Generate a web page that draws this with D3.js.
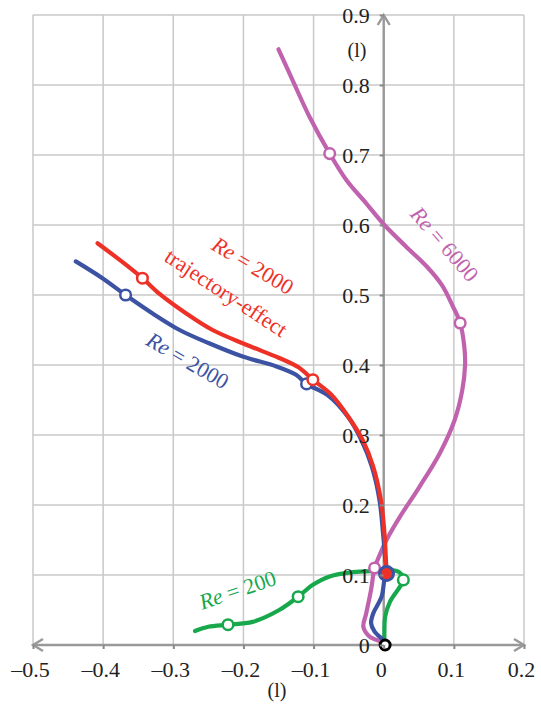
<!DOCTYPE html>
<html>
<head>
<meta charset="utf-8">
<script src="https://cdn.jsdelivr.net/npm/d3@7"></script>
<style>
    body { margin: 0; background: #fff; }
    text { font-family: "Liberation Serif", "Times New Roman", serif; }
</style>
</head>
<body>
<svg id="chart" width="541" height="704"></svg>
<script>
// tick values
var xTicks = [-0.5, -0.4, -0.3, -0.2, -0.1, 0, 0.1, 0.2];
var yTicks = [0, 0.1, 0.2, 0.3, 0.4, 0.5, 0.6, 0.7, 0.8, 0.9];

// Re = 6000 (top -> origin)
var re6000X = [-0.150, -0.130, -0.106, -0.077, -0.053, -0.025, 0.001, 0.032, 0.062, 0.083, 0.098, 0.109, 0.115, 0.116, 0.112, 0.101, 0.080, 0.051, 0.023, 0.004, -0.006, -0.013, -0.018, -0.025, -0.029, -0.020, -0.003, 0.000];
var re6000Y = [0.851, 0.807, 0.755, 0.702, 0.664, 0.631, 0.600, 0.569, 0.540, 0.514, 0.485, 0.460, 0.425, 0.400, 0.364, 0.321, 0.274, 0.226, 0.183, 0.150, 0.128, 0.110, 0.079, 0.045, 0.026, 0.012, 0.004, 0.000];
var re6000Marks = [[-0.077, 0.702], [0.109, 0.460], [-0.013, 0.110]];

// Re = 2000 trajectory-effect
var trajX = [-0.408, -0.375, -0.344, -0.320, -0.282, -0.244, -0.196, -0.149, -0.122, -0.101, -0.074, -0.049, -0.030, -0.015, -0.004, 0.001, 0.003, 0.004];
var trajY = [0.574, 0.549, 0.524, 0.502, 0.474, 0.450, 0.429, 0.410, 0.397, 0.379, 0.357, 0.324, 0.293, 0.255, 0.207, 0.160, 0.125, 0.102];
var trajMarks = [[-0.344, 0.524], [-0.101, 0.379]];

// Re = 2000
var re2000X = [-0.439, -0.401, -0.368, -0.330, -0.291, -0.249, -0.201, -0.153, -0.125, -0.110, -0.080, -0.051, -0.032, -0.017, -0.006, -0.001, 0.002, 0.004, 0.001, -0.003, -0.015, -0.018, -0.013, 0.001, 0.002];
var re2000Y = [0.548, 0.524, 0.500, 0.474, 0.450, 0.431, 0.412, 0.398, 0.386, 0.373, 0.357, 0.326, 0.293, 0.255, 0.207, 0.160, 0.125, 0.102, 0.093, 0.069, 0.045, 0.031, 0.019, 0.005, 0.000];
var re2000Marks = [[-0.368, 0.500], [-0.110, 0.373]];

// Re = 200
var re200X = [-0.269, -0.250, -0.222, -0.187, -0.149, -0.122, -0.101, -0.077, -0.044, -0.006, 0.012, 0.022, 0.028, 0.023, 0.009, 0.002, 0.001, 0.001];
var re200Y = [0.020, 0.026, 0.029, 0.033, 0.050, 0.069, 0.086, 0.098, 0.104, 0.106, 0.107, 0.104, 0.093, 0.083, 0.062, 0.040, 0.020, 0.000];
var re200Marks = [[-0.222, 0.029], [-0.122, 0.069], [0.028, 0.093]];

var startPoint = [0.004, 0.102];
var origin = [0.002, 0.0];

var colors = {re6000: '#c062ad', traj: '#ee3127', re2000: '#3c52a3', re200: '#17a84c'};

var svg = d3.select('#chart');

var x = d3.scaleLinear().domain([-0.5, 0.2]).range([33, 524]);
var y = d3.scaleLinear().domain([0, 0.9]).range([645, 15]);

// grid
var grid = svg.append('g').attr('stroke', '#c8c8c8').attr('stroke-width', 1.5);
grid.selectAll('.vg').data(xTicks).enter().append('line')
    .attr('x1', function (d) { return x(d); }).attr('x2', function (d) { return x(d); })
    .attr('y1', y(0)).attr('y2', y(0.9));
grid.selectAll('.hg').data(yTicks).enter().append('line')
    .attr('x1', x(-0.5)).attr('x2', x(0.2))
    .attr('y1', function (d) { return y(d); }).attr('y2', function (d) { return y(d); });

// axes with arrows
var axisColor = '#999';
var ax = svg.append('g').attr('stroke', axisColor).attr('stroke-width', 2.4).attr('fill', 'none');
ax.append('line').attr('x1', x(-0.5)).attr('x2', x(0.2)).attr('y1', y(0)).attr('y2', y(0));
ax.append('line').attr('x1', x(0)).attr('x2', x(0)).attr('y1', y(0)).attr('y2', y(0.9));
ax.append('path').attr('d', 'M' + (x(0.2) - 10) + ',' + (y(0) - 6) + 'L' + x(0.2) + ',' + y(0) + 'L' + (x(0.2) - 10) + ',' + (y(0) + 6));
ax.append('path').attr('d', 'M' + (x(-0.5) + 10) + ',' + (y(0) - 6) + 'L' + x(-0.5) + ',' + y(0) + 'L' + (x(-0.5) + 10) + ',' + (y(0) + 6));
ax.append('path').attr('d', 'M' + (x(0) - 6) + ',' + (y(0.9) + 10) + 'L' + x(0) + ',' + y(0.9) + 'L' + (x(0) + 6) + ',' + (y(0.9) + 10));

// curves
var line = d3.line()
    .x(function (d) { return x(d[0]); })
    .y(function (d) { return y(d[1]); })
    .curve(d3.curveCatmullRom.alpha(0.5));

function zip(xs, ys) { return xs.map(function (v, i) { return [v, ys[i]]; }); }

var series = [
    {pts: zip(re6000X, re6000Y), marks: re6000Marks, color: colors.re6000},
    {pts: zip(re200X, re200Y), marks: re200Marks, color: colors.re200},
    {pts: zip(re2000X, re2000Y), marks: re2000Marks, color: colors.re2000},
    {pts: zip(trajX, trajY), marks: trajMarks, color: colors.traj}
];

svg.append('g').selectAll('path').data(series).enter().append('path')
    .attr('d', function (d) { return line(d.pts); })
    .attr('fill', 'none')
    .attr('stroke', function (d) { return d.color; })
    .attr('stroke-width', 4.2)
    .attr('stroke-linecap', 'round')
    .attr('stroke-linejoin', 'round');

// open markers
series.forEach(function (s) {
    svg.append('g').selectAll('circle').data(s.marks).enter().append('circle')
        .attr('cx', function (d) { return x(d[0]); })
        .attr('cy', function (d) { return y(d[1]); })
        .attr('r', 5.3)
        .attr('fill', '#fff')
        .attr('stroke', s.color)
        .attr('stroke-width', 2.5);
});

svg.append('circle')
    .attr('cx', x(startPoint[0])).attr('cy', y(startPoint[1])).attr('r', 7)
    .attr('fill', colors.traj).attr('stroke', colors.re2000).attr('stroke-width', 3);

svg.append('circle')
    .attr('cx', x(origin[0])).attr('cy', y(origin[1])).attr('r', 5)
    .attr('fill', '#fff').attr('stroke', '#000').attr('stroke-width', 3);

// tick labels
var yAxis = svg.append('g')
    .attr('transform', 'translate(' + x(0) + ',0)')
    .call(d3.axisLeft(y).tickValues(yTicks).tickSize(4).tickPadding(10)
        .tickFormat(function (d) { return d === 0 ? '0' : d.toFixed(1); }));
var xAxis = svg.append('g')
    .attr('transform', 'translate(0,' + y(0) + ')')
    .call(d3.axisBottom(x).tickValues(xTicks).tickSize(4).tickPadding(12)
        .tickFormat(function (d) { return d === 0 ? '0' : (d < 0 ? '\u2013' : '') + Math.abs(d).toFixed(1); }));

[xAxis, yAxis].forEach(function (a) {
    a.select('.domain').remove();
    a.selectAll('.tick line').attr('stroke', '#888').attr('stroke-width', 2);
    a.selectAll('.tick text').attr('fill', '#222').attr('font-size', 22)
        .attr('font-family', '"Liberation Serif", serif');
});
xAxis.selectAll('.tick text').attr('dx', -3);

// axis unit labels
svg.append('text').attr('x', 277).attr('y', 697).attr('text-anchor', 'middle')
    .attr('font-size', 20).attr('fill', '#222').text('(l)');
svg.append('text').attr('x', 357).attr('y', 57).attr('text-anchor', 'middle')
    .attr('font-size', 20).attr('fill', '#222').text('(l)');

// curve labels
function reLabel(cx, cy, angle, value, color) {
    var t = svg.append('text')
        .attr('transform', 'translate(' + cx + ',' + cy + ') rotate(' + angle + ')')
        .attr('text-anchor', 'middle')
        .attr('font-size', 22)
        .attr('fill', color);
    t.append('tspan').attr('font-style', 'italic').text('Re');
    t.append('tspan').text(' = ' + value);
}
reLabel(439, 249, 49, '6000', colors.re6000);
reLabel(249, 272, 31, '2000', colors.traj);
reLabel(184, 367, 30, '2000', colors.re2000);
reLabel(240, 597, -18.5, '200', colors.re200);

svg.append('text')
    .attr('transform', 'translate(222,299) rotate(33.3)')
    .attr('text-anchor', 'middle')
    .attr('font-size', 22)
    .attr('fill', colors.traj)
    .text('trajectory-effect');
</script>
</body>
</html>
